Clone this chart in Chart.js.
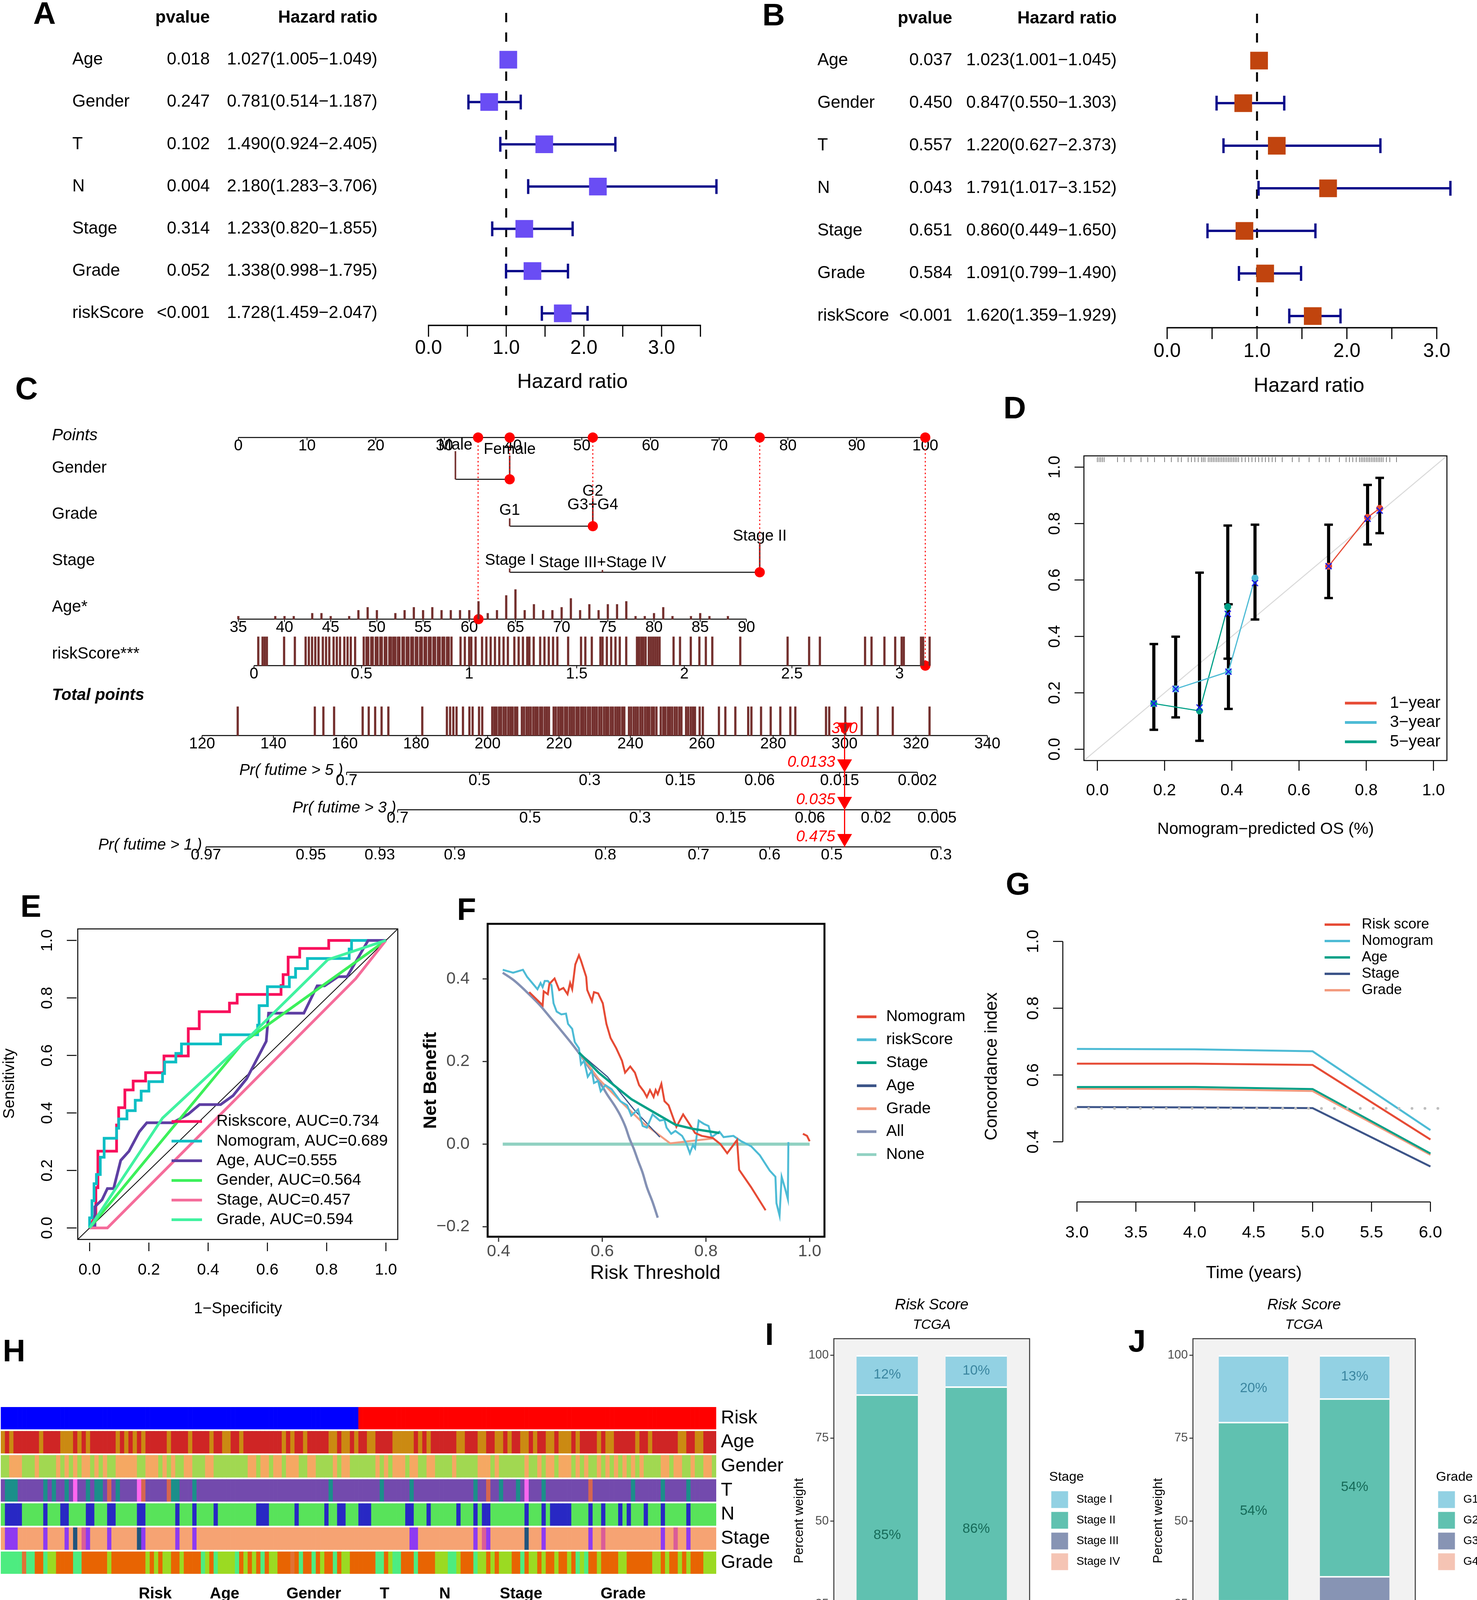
<!DOCTYPE html>
<html>
<head>
<meta charset="utf-8">
<title>Figure</title>
<script src="https://cdn.jsdelivr.net/npm/chart.js@4.4.1/dist/chart.umd.min.js"></script>
<style>
html,body{margin:0;padding:0;background:#fff;}
#page{position:relative;width:3780px;height:4455px;background:#fff;overflow:hidden;}
#page canvas{position:absolute;}
.plab{position:absolute;font-family:"Liberation Sans",Arial,sans-serif;font-weight:bold;font-size:80px;line-height:80px;transform:translate(-50%,-50%);color:#000;}
</style>
</head>
<body>
<div id="page"></div>
<script>
// ======================= DATA =======================
// --- A / B forest plots ---
const forestVars = ['Age','Gender','T','N','Stage','Grade','riskScore'];
const uniP  = ['0.018','0.247','0.102','0.004','0.314','0.052','<0.001'];
const uniHR = [1.027,0.781,1.490,2.180,1.233,1.338,1.728];
const uniLo = [1.005,0.514,0.924,1.283,0.820,0.998,1.459];
const uniHi = [1.049,1.187,2.405,3.706,1.855,1.795,2.047];
const multiP  = ['0.037','0.450','0.557','0.043','0.651','0.584','<0.001'];
const multiHR = [1.023,0.847,1.220,1.791,0.860,1.091,1.620];
const multiLo = [1.001,0.550,0.627,1.017,0.449,0.799,1.359];
const multiHi = [1.045,1.303,2.373,3.152,1.650,1.490,1.929];
const forestTicksA = [0,0.5,1,1.5,2,2.5,3,3.5];
const forestTicksB = [0,0.5,1,1.5,2,2.5,3];

// --- C nomogram ---
const nomoPtsTicks = [0,10,20,30,40,50,60,70,80,90,100];
const nomoGenderLv = ['Male','Female'];
const nomoGenderPts = [31.6,39.5];
const nomoGradeLv = ['G1','G2','G3+G4'];
const nomoGradePts = [39.5,51.6,51.6];
const nomoStageLv = ['Stage I','Stage II','Stage III+Stage IV'];
const nomoStagePts = [39.5,75.9,53.0];
const nomoAgeTicks = [35,40,45,50,55,60,65,70,75,80,85,90];
const nomoAgeVals = [35,39,40,41,43,44,45,47,48,49,50,52,53,54,55,56,57,58,59,60,61,62,63,64,65,66,67,68,69,70,71,72,73,74,75,76,77,78,79,80,81,82,84,85,86,88];
const nomoAgeCnt  = [1,1,1,1,2,2,1,1,3,4,3,2,3,4,3,4,3,3,3,3,6,2,3,8,10,3,5,3,3,4,7,3,5,3,5,5,6,1,1,2,4,1,1,2,1,1];
const nomoRiskTicks = [0,0.5,1,1.5,2,2.5,3];
const nomoRiskTickLabels = ['0','0.5','1','1.5','2','2.5','3'];
const nomoRiskRug = [0.02,0.04,0.05,0.06,0.14,0.19,0.24,0.255,0.27,0.285,0.30,0.32,0.335,0.35,0.37,0.385,0.40,0.42,0.435,0.45,0.47,
  0.51,0.523,0.531,0.545,0.552,0.566,0.574,0.587,0.594,0.608,0.615,0.629,0.637,0.648,0.657,0.669,0.676,0.69,0.697,0.71,0.718,0.731,0.739,0.752,0.759,0.772,0.78,0.793,0.80,0.813,0.821,0.834,0.842,0.855,0.863,0.876,0.884,0.897,0.905,0.918,
  0.96,0.98,1.00,1.01,1.03,1.06,1.08,1.10,1.12,1.14,1.16,1.18,1.21,1.23,1.25,1.27,1.28,1.30,1.33,1.35,1.37,1.39,1.41,1.46,1.52,1.54,1.57,1.61,1.62,1.64,1.66,1.68,1.70,1.73,
  1.78,1.79,1.80,1.81,1.82,1.835,1.845,1.855,1.865,1.875,1.885,1.95,1.98,2.03,2.07,2.10,2.13,2.26,2.48,2.58,2.63,2.84,2.87,2.93,2.98,3.01,3.02,3.10,3.11,3.14];
const nomoTotTicks = [120,140,160,180,200,220,240,260,280,300,320,340];
const nomoTotRug = [130,151.6,154,157,165,166.7,168.5,170.3,172.2,181.7,188.6,189.5,190.4,191.3,193.1,194.9,195.8,197.6,198.5,
  201.3,201.9,202.5,203.2,203.8,204.5,205.1,205.8,206.4,207.0,207.7,208.3,209.6,210.2,210.9,211.5,212.1,212.8,213.4,214.0,214.7,215.3,216.0,216.6,217.2,218.5,219.1,219.8,220.4,221.0,221.7,222.3,223.0,223.6,224.2,224.9,225.5,226.2,226.8,227.4,228.1,228.7,229.4,230.0,230.6,231.3,231.9,232.6,233.2,233.8,234.5,235.1,235.8,236.4,237.0,237.7,238.3,239.6,240.2,240.9,241.5,242.1,242.8,243.4,244.1,244.7,245.3,246.0,246.6,247.3,248.5,249.2,249.8,250.5,251.1,251.7,252.4,253.0,253.7,254.3,255.6,256.2,256.9,257.5,258.1,259.4,260.3,
  264.8,266.6,269.4,273,273.9,276.6,279.3,282,284.8,286.2,294.8,295.7,300.2,304.8,309.3,313.5,323.8];
const pr5Labels = ['0.7','0.5','0.3','0.15','0.06','0.015','0.002'];
const pr5Tot    = [160.5,197.7,228.6,254.0,276.2,298.6,320.4];
const pr3Labels = ['0.7','0.5','0.3','0.15','0.06','0.02','0.005'];
const pr3Tot    = [174.8,211.9,242.7,268.2,290.3,308.8,325.9];
const pr1Labels = ['0.97','0.95','0.93','0.9','0.8','0.7','0.6','0.5','0.3'];
const pr1Tot    = [121.1,150.5,169.8,190.8,233.0,259.1,279.0,296.4,327.0];
const nomoSelPts = [34.9,39.5,51.6,75.9,100.0];   // Age, Gender(Female), Grade(G2), Stage(II), riskScore
const nomoSelAge = 61;
const nomoSelRisk = 3.12;
const nomoSelTotal = 300;
const nomoSelProb = ['0.0133','0.035','0.475'];

// --- D calibration ---
const cal1X = [0.688,0.804,0.840], cal1Obs = [0.649,0.822,0.854], cal1Cor = [0.649,0.817,0.846], cal1Lo = [0.536,0.726,0.766], cal1Hi = [0.796,0.937,0.962];
const cal3X = [0.233,0.390,0.469], cal3Obs = [0.214,0.275,0.607], cal3Cor = [0.214,0.275,0.589], cal3Lo = [0.113,0.143,0.460], cal3Hi = [0.399,0.514,0.796];
const cal5X = [0.168,0.304,0.388], cal5Obs = [0.162,0.136,0.505], cal5Cor = [0.162,0.148,0.480], cal5Lo = [0.069,0.030,0.321], cal5Hi = [0.373,0.626,0.793];
const calRug = [0.0,0.005,0.01,0.015,0.02,0.06,0.08,0.1,0.13,0.15,0.17,0.2,0.22,0.24,0.25,0.27,0.28,0.29,0.3,0.31,0.315,0.32,0.33,0.335,0.34,0.345,0.35,0.355,0.36,0.365,0.37,0.375,0.38,0.385,0.39,0.395,0.4,0.405,0.41,0.415,0.42,0.43,0.44,0.45,0.46,0.47,0.48,0.49,0.5,0.51,0.52,0.53,0.55,0.58,0.6,0.63,0.66,0.68,0.69,0.72,0.74,0.75,0.76,0.77,0.78,0.785,0.79,0.795,0.8,0.805,0.81,0.815,0.82,0.825,0.83,0.835,0.84,0.845,0.85,0.86,0.87,0.89];
const calNames = ['1\u2212year','3\u2212year','5\u2212year'];
const calTicks = [0,0.2,0.4,0.6,0.8,1.0];

// --- E ROC ---
const rocNames = ['Riskscore, AUC=0.734','Nomogram, AUC=0.689','Age, AUC=0.555','Gender, AUC=0.564','Stage, AUC=0.457','Grade, AUC=0.594'];
const rocRisk = [[0,0],[0.021,0.05],[0.021,0.14],[0.028,0.14],[0.028,0.267],[0.091,0.267],[0.091,0.358],[0.098,0.358],[0.098,0.418],[0.119,0.418],[0.119,0.48],[0.147,0.48],[0.147,0.511],[0.189,0.511],[0.189,0.54],[0.251,0.54],[0.251,0.598],[0.333,0.598],[0.333,0.693],[0.370,0.693],[0.370,0.752],[0.472,0.752],[0.472,0.782],[0.498,0.782],[0.498,0.812],[0.646,0.812],[0.646,0.843],[0.653,0.843],[0.653,0.881],[0.670,0.881],[0.670,0.942],[0.709,0.942],[0.709,0.972],[0.807,0.972],[0.807,1.0],[1,1]];
const rocNomo = [[0,0],[0,0.035],[0.008,0.035],[0.008,0.095],[0.015,0.095],[0.015,0.154],[0.023,0.154],[0.023,0.186],[0.036,0.186],[0.036,0.246],[0.049,0.246],[0.049,0.312],[0.091,0.312],[0.091,0.347],[0.098,0.347],[0.098,0.379],[0.126,0.379],[0.126,0.408],[0.154,0.408],[0.154,0.444],[0.174,0.444],[0.174,0.476],[0.2,0.476],[0.2,0.509],[0.246,0.509],[0.246,0.537],[0.253,0.537],[0.253,0.577],[0.291,0.577],[0.291,0.607],[0.31,0.607],[0.31,0.64],[0.442,0.64],[0.442,0.672],[0.567,0.672],[0.567,0.705],[0.572,0.705],[0.572,0.773],[0.6,0.773],[0.6,0.839],[0.674,0.839],[0.674,0.872],[0.695,0.872],[0.695,0.902],[0.735,0.902],[0.735,0.937],[0.876,0.937],[0.876,0.97],[0.884,0.97],[0.884,1.0],[1,1]];
const rocAge = [[0,0],[0.018,0.007],[0.018,0.074],[0.042,0.098],[0.06,0.137],[0.081,0.137],[0.105,0.235],[0.133,0.267],[0.168,0.335],[0.193,0.366],[0.281,0.366],[0.333,0.396],[0.371,0.429],[0.442,0.429],[0.484,0.46],[0.53,0.519],[0.596,0.649],[0.604,0.747],[0.723,0.747],[0.768,0.842],[0.793,0.842],[0.839,0.874],[0.869,0.874],[0.94,1.0],[1,1]];
const rocGender = [[0,0],[0.519,0.646],[1,1]];
const rocStage = [[0,0],[0.06,0],[0.898,0.867],[1,1]];
const rocGrade = [[0,0],[0.246,0.382],[0.52,0.645],[0.804,0.933],[1,1]];
const rocTicks = [0,0.2,0.4,0.6,0.8,1.0];

// --- F decision curves ---
const dcaNames = ['Nomogram','riskScore','Stage','Age','Grade','All','None'];
const dcaNomo = [[0.459,0.368],[0.485,0.336],[0.487,0.37],[0.495,0.363],[0.498,0.388],[0.508,0.401],[0.517,0.373],[0.525,0.378],[0.533,0.363],[0.538,0.39],[0.542,0.375],[0.544,0.395],[0.548,0.435],[0.555,0.457],[0.559,0.444],[0.569,0.405],[0.571,0.373],[0.580,0.346],[0.584,0.368],[0.592,0.365],[0.601,0.341],[0.608,0.291],[0.616,0.257],[0.627,0.232],[0.638,0.202],[0.644,0.173],[0.654,0.188],[0.663,0.173],[0.671,0.143],[0.68,0.128],[0.686,0.114],[0.692,0.131],[0.699,0.114],[0.703,0.131],[0.707,0.121],[0.714,0.146],[0.72,0.104],[0.728,0.094],[0.743,0.042],[0.756,0.072],[0.768,0.049],[0.779,0.027],[0.792,0.02],[0.813,0.015],[0.828,0.0],[0.841,-0.022],[0.86,0.01],[0.864,-0.062],[0.887,-0.104],[0.915,-0.16],[0.95,null],[0.987,0.025],[0.995,0.02],[1.0,0.007]];
const dcaRisk = [[0.408,0.422],[0.428,0.415],[0.447,0.422],[0.455,0.405],[0.475,0.375],[0.481,0.39],[0.485,0.38],[0.489,0.395],[0.495,0.395],[0.502,0.385],[0.506,0.341],[0.512,0.321],[0.521,0.314],[0.53,0.316],[0.534,0.291],[0.542,0.279],[0.547,0.247],[0.555,0.232],[0.559,0.193],[0.565,0.202],[0.572,0.163],[0.58,0.178],[0.584,0.148],[0.592,0.153],[0.597,0.128],[0.606,0.143],[0.618,0.133],[0.635,0.104],[0.648,0.094],[0.656,0.069],[0.669,0.084],[0.678,0.044],[0.686,0.04],[0.697,0.072],[0.711,0.057],[0.72,0.059],[0.724,0.04],[0.733,0.025],[0.741,0.032],[0.754,0.02],[0.762,0.002],[0.769,-0.022],[0.775,-0.002],[0.779,-0.01],[0.786,0.057],[0.796,0.049],[0.805,0.044],[0.811,0.017],[0.826,0.03],[0.834,0.017],[0.853,0.02],[0.868,0.007],[0.887,-0.005],[0.904,-0.027],[0.923,-0.064],[0.934,-0.079],[0.936,-0.143],[0.942,-0.173],[0.946,-0.079],[0.953,-0.109],[0.958,-0.133],[0.959,0.005]];
const dcaStage = [[0.555,0.222],[0.593,0.173],[0.627,0.138],[0.656,0.109],[0.69,0.084],[0.741,0.047],[0.775,0.037],[0.826,0.027]];
const dcaAge = [[0.555,0.222],[0.61,0.163],[0.661,0.084],[0.711,0.017]];
const dcaGrade = [[0.555,0.222],[0.593,0.158],[0.635,0.104],[0.678,0.052],[0.731,0.002],[0.815,0.014]];
const dcaAll = [[0.408,0.415],[0.43,0.396],[0.457,0.365],[0.48,0.336],[0.5,0.306],[0.52,0.276],[0.542,0.242],[0.56,0.212],[0.576,0.183],[0.595,0.15],[0.61,0.119],[0.625,0.091],[0.635,0.069],[0.645,0.041],[0.652,0.015],[0.661,-0.012],[0.669,-0.04],[0.678,-0.07],[0.686,-0.104],[0.697,-0.14],[0.707,-0.178]];
const dcaNone = [[0.408,0],[1.0,0]];
const dcaXTicks = [0.4,0.6,0.8,1.0];
const dcaYTicks = [-0.2,0,0.2,0.4];

// --- G concordance index ---
const cTime  = [3,4,5,6];
const cRisk  = [0.634,0.634,0.630,0.407];
const cNomo  = [0.678,0.677,0.671,0.435];
const cAge   = [0.564,0.564,0.558,0.365];
const cStage = [0.504,0.503,0.501,0.326];
const cGrade = [0.559,0.558,0.552,0.361];
const cNames = ['Risk score','Nomogram','Age','Stage','Grade'];
const cXTicks = [3,3.5,4,4.5,5,5.5,6];
const cYTicks = [0.4,0.6,0.8,1.0];

// --- H annotation heatmap (one code per patient column, low-risk half then high-risk half) ---
const hmRiskLow    = "0000000000 0000000000 0000000000 0000000000 0000000000 0000000000 0000000000 0000000000 0000";
const hmRiskHigh   = "1111111111 1111111111 1111111111 1111111111 1111111111 1111111111 1111111111 1111111111 1111";
const hmAgeLow     = "0 1 0 111111 0 1111 000 1 0 1 0 111111 0 1 0 1 0 1 0 11111 0 1111 0 1111 0 11 00 11 0 111111111 0 1 0 11 0 11111 00 1 00 1 0";
const hmAgeHigh    = "11 00 1111 00000 1 0 1 0 111111 00 111 00 11 00 1 0 11 00 1 0 11 00 1 000 1 0 1111 0 1 00 11111 0 11 0 111111 00 11 00 111";
const hmGenderLow  = "11 000 111 0 1111 0 1 0 1 0 1 00 1 0 1 0 11 00000 11 000 1 0 1 0 11 00 111 00 11111111 00 1 00 1 00 1 000 11 00 1111 0 1 00 11";
const hmGenderHigh = "1111 0 1 0 1 000 1 00 11 00 1111 0 11111 000 1 0 111111 0 11 0 1 00 1 000 1 0 1 0 11 0 1 0 1 0 1 0 1 0 1 0 1111 00 1 00 11 0 11 00 1";
const hmTLow       = "2 111 222222 1 2 1 22 1 2 3 22 1 2 11 2 0 2 1 2222 3 0 22222 0 11 222 1 2222222222 2222222222 2222222222 2 1 222222";
const hmTHigh      = "22222 1 222222 1 2222222222 2222 1 22 0 22 1 222 1 2 3 222 1 2222222222 0 222222222 1 222222 1 22222 1 222222";
const hmNLow       = "1 0000 11111 0 111 00 1111 00 111 00 11111 00 1111111 0 111 0 1111 0 111111111 000 111111 0 111111 0 11 00 111";
const hmNHigh      = "000 11111111 00 111 0 111111 0 111 0 1 00 11111111 0 111 0 1 00000 1111 0 11 0 111 0 1 0 111 0 111 0 11111 0 111111";
const hmStageLow   = "1 000 111111 0 1111 0 1 2 1 3 0 1111 0 111111 2 0 1111111 0 111 0 1111111111 1111111111 1111111111 11111111";
const hmStageHigh  = "111111111111 00 1111111111111 0 1 3 0 11111111 2 111 0 1111111111 0 11 3 1111111111111 0 11 3 11 0 111111";
const hmGradeLow   = "00000 3 00 11 0 22 1111 00 111111 2 11111111 2 1 2 1 22 11 2 1111 0 2 1 0 2222 0 1 2 1 2 1 0 1 22 111 3 1 0 11 0 1 2 11 0 1 22 11";
const hmGradeHigh  = "1111 00 1 2 00 111 0 1111 222 00 2 111 0 22 1 2 1 222 11 0 1 22 1 2 11 2 11 2 1 0 2 0 11 2 1111 22 111111 22 1 2 11 2 1 2 111 222";
const hmRowNames = ['Risk','Age','Gender','T','N','Stage','Grade'];
const riskLv = ['low','high'], ageLv = ['<=61','>61'], genderLv = ['Female','Male'], tLv = ['T1','T2','T3','T4'], nLv = ['N0','N1'], stageLv = ['Stage I','Stage II','Stage III','Stage IV'], gradeLv = ['G1','G2','G3','G4'];

// --- I / J proportion bars ---
const propGroups = ['low','high'];
const propN = [89,88];
const stageCats = ['Stage I','Stage II','Stage III','Stage IV'];
const stageLowPct  = [11.8,84.9,2.3,1.0];
const stageHighPct = [9.4,86.0,1.3,3.3];
const stageLowLbl  = ['12%','85%','2%','1%'];
const stageHighLbl = ['10%','86%','1%','4%'];
const gradeCats = ['G1','G2','G3','G4'];
const gradeLowPct  = [20.1,53.7,23.9,2.3];
const gradeHighPct = [13.0,53.6,33.4,0.0];
const gradeLowLbl  = ['20%','54%','24%','2%'];
const gradeHighLbl = ['13%','54%','33%','0%'];
const propYTicks = [0,25,50,75,100];

// ======================= STYLE =======================
const FONT = '"Liberation Sans", Arial, Helvetica, sans-serif';
const NAVY = '#0A0A8A';
const BROWN = '#74302E';
const RED = '#FF0000';
const NPG = ['#E64B35','#4DBBD5','#00A087','#3C5488','#F39B7F','#8491B4','#91D1C2'];
const calColors = [NPG[0],NPG[1],NPG[2]];
const rocColors = ['#F8105C','#0DBEC4','#5E3FA3','#3CF05A','#F56C9A','#40F2A0'];
const dcaColors = [NPG[0],NPG[1],NPG[2],NPG[3],NPG[4],NPG[5],NPG[6]];
const cColors = [NPG[0],NPG[1],NPG[2],NPG[3],NPG[4]];
const riskCol = ['#0000FF','#FF0000'];
const ageCol = ['#CB8A12','#CF2525'];
const genderCol = ['#F5A862','#A1D851'];
const tCol = ['#D6664F','#1B8F8A','#734AAD','#FF66F0'];
const nCol = ['#2828C4','#58E35A'];
const stageColH = ['#8E3AF2','#F6A373','#22547C','#DA5C98'];
const gradeColH = ['#4DEC80','#E86402','#9BDA22','#E07234'];
const propFill = ['#92D1E3','#60C1B0','#8794B4','#F5C4B4'];
const propTxt  = ['#3B86A0','#166B59','#28314F','#A06A58'];

Chart.defaults.font.family = FONT;
Chart.defaults.elements.point.radius = 0;
Chart.defaults.elements.point.hoverRadius = 0;
Chart.defaults.elements.line.tension = 0;

// ======================= HELPERS =======================
const page = document.getElementById('page');
let plugCount = 0;
function mkCanvas(L,T,W,H){
  const c=document.createElement('canvas'); c.width=W; c.height=H;
  c.style.left=L+'px'; c.style.top=T+'px'; c.style.width=W+'px'; c.style.height=H+'px';
  page.appendChild(c); return c;
}
function txt(ctx,s,x,y,o){
  o=o||{}; ctx.save();
  ctx.font=(o.style||'normal')+' '+(o.weight||'normal')+' '+(o.size||42)+'px '+FONT;
  ctx.fillStyle=o.color||'#000'; ctx.textAlign=o.align||'center'; ctx.textBaseline=o.base||'middle';
  if(o.rot){ctx.translate(x,y);ctx.rotate(o.rot);ctx.fillText(s,0,0);} else ctx.fillText(s,x,y);
  ctx.restore();
}
function seg(ctx,x1,y1,x2,y2,color,w,dash,cap){
  ctx.save(); ctx.beginPath(); ctx.strokeStyle=color||'#000'; ctx.lineWidth=w||2;
  ctx.setLineDash(dash||[]); ctx.lineCap=cap||'butt'; ctx.moveTo(x1,y1); ctx.lineTo(x2,y2); ctx.stroke(); ctx.restore();
}
function rect(ctx,x,y,w,h,fill,stroke,lw){
  ctx.save(); if(fill){ctx.fillStyle=fill;ctx.fillRect(x,y,w,h);} if(stroke){ctx.strokeStyle=stroke;ctx.lineWidth=lw||2;ctx.strokeRect(x,y,w,h);} ctx.restore();
}
function letter(s,x,y){const d=document.createElement('div');d.className='plab';d.textContent=s;d.style.left=x+'px';d.style.top=y+'px';page.appendChild(d);}
function pairs(a){return a.map(p=>({x:p[0],y:p[1]}));}
function makeChart(L,T0,W,H,area,config,drawAfter,drawBefore){
  const cv=mkCanvas(L,T0,W,H);
  const wrap=fn=>ch=>{
    if(!fn) return;
    const c=ch.ctx; c.save(); c.translate(-L,-T0);
    fn(ch,c,(sid,v)=>ch.scales[sid].getPixelForValue(v)+L,(sid,v)=>ch.scales[sid].getPixelForValue(v)+T0);
    c.restore();
  };
  const o=config.options||(config.options={});
  o.responsive=false; o.maintainAspectRatio=false; o.animation=false; o.devicePixelRatio=1; o.events=[];
  o.layout={autoPadding:false,padding:{left:area.l-L,right:L+W-area.r,top:area.t-T0,bottom:T0+H-area.b}};
  o.plugins=Object.assign({legend:{display:false},tooltip:{enabled:false},title:{display:false}},o.plugins||{});
  config.plugins=[{id:'pg'+(++plugCount),beforeDatasetsDraw:wrap(drawBefore),afterDatasetsDraw:wrap(drawAfter)}];
  return new Chart(cv.getContext('2d'),config);
}
const LIN = (min,max,extra)=>Object.assign({type:'linear',display:false,min:min,max:max,offset:false},extra||{});

// ======================= A & B : forest plots =======================
function forestPanel(o){
  const ds=[];
  o.hr.forEach((v,i)=>ds.push({type:'line',data:[{x:o.lo[i],y:i},{x:o.hi[i],y:i}],borderColor:NAVY,borderWidth:6,
    pointStyle:'line',pointRotation:90,pointRadius:19,pointBorderColor:NAVY,pointBorderWidth:6,order:2}));
  ds.push({type:'scatter',data:o.hr.map((v,i)=>({x:v,y:i})),pointStyle:'rect',pointRadius:32,
    pointBackgroundColor:o.color,backgroundColor:o.color,pointBorderWidth:0,borderWidth:0,order:1});
  makeChart(o.L,o.T,o.W,o.H,o.area,{type:'scatter',data:{datasets:ds},
    options:{scales:{x:LIN(o.xmin,o.xmax),y:LIN(o.ymin,o.ymax,{reverse:true})}}},
    (ch,ctx,X,Y)=>{
      txt(ctx,'pvalue',o.pX,o.headY,{size:44,weight:'bold',align:'right'});
      txt(ctx,'Hazard ratio',o.hrX,o.headY,{size:44,weight:'bold',align:'right'});
      forestVars.forEach((n,i)=>{
        const y=Y('y',i);
        txt(ctx,n,o.labX,y,{size:44,align:'left'});
        txt(ctx,o.p[i],o.pX,y,{size:44,align:'right'});
        txt(ctx,o.hr[i].toFixed(3)+'('+o.lo[i].toFixed(3)+'\u2212'+o.hi[i].toFixed(3)+')',o.hrX,y,{size:44,align:'right'});
      });
      const t=o.ticks;
      seg(ctx,X('x',t[0])-1.5,o.axisY,X('x',t[t.length-1])+1.5,o.axisY,'#000',3.5);
      t.forEach(v=>{const x=X('x',v); seg(ctx,x,o.axisY,x,o.axisY+29,'#000',3);
        if(Number.isInteger(v)) txt(ctx,v.toFixed(1),x,o.tickLabY,{size:50});});
      txt(ctx,'Hazard ratio',o.xlabX,o.xlabY,{size:52});
    },
    (ch,ctx,X,Y)=>{const x=X('x',1); seg(ctx,x,o.dashTop,x,o.axisY,'#000',5,[24,26]);});
}
forestPanel({L:0,T:0,W:1900,H:1040,area:{l:1037,t:0,r:1892,b:1040},xmin:-0.3,xmax:4.0,ymin:-1.414,ymax:8.198,
  hr:uniHR,lo:uniLo,hi:uniHi,p:uniP,color:'#6A4DF4',labX:185,pX:537,hrX:966,headY:46,axisY:833,tickLabY:892,
  xlabX:1465,xlabY:979,dashTop:33,ticks:forestTicksA});
forestPanel({L:1950,T:0,W:1830,H:1040,area:{l:2918,t:0,r:3780,b:1040},xmin:-0.3,xmax:3.448,ymin:-1.422,ymax:8.119,
  hr:multiHR,lo:multiLo,hi:multiHi,p:multiP,color:'#C1440E',labX:2092,pX:2437,hrX:2858,headY:48,axisY:839,tickLabY:900,
  xlabX:3350,xlabY:989,dashTop:35,ticks:forestTicksB});

// ======================= C : nomogram =======================
(function(){
  const R={points:1120,gender:1227,grade:1347,stage:1465,age:1585,risk:1704,total:1883,pr5:1977,pr3:2073,pr1:2168};
  const ds=[];
  ds.push({type:'bar',xAxisID:'xAge',yAxisID:'yAge',data:nomoAgeVals.map((v,i)=>({x:v,y:nomoAgeCnt[i]})),backgroundColor:BROWN,barThickness:5,grouped:false,borderWidth:0});
  ds.push({type:'bar',xAxisID:'xRisk',yAxisID:'yRisk',data:nomoRiskRug.map(v=>({x:v,y:1})),backgroundColor:BROWN,barThickness:5,grouped:false,borderWidth:0});
  ds.push({type:'bar',xAxisID:'xTot',yAxisID:'yTot',data:nomoTotRug.map(v=>({x:v,y:1})),backgroundColor:BROWN,barThickness:5,grouped:false,borderWidth:0});
  const selRows=[R.age,R.gender,R.grade,R.stage,R.risk];
  nomoSelPts.forEach((p,i)=>ds.push({type:'line',xAxisID:'xPts',yAxisID:'yPx',data:[{x:p,y:R.points},{x:p,y:selRows[i]}],borderColor:RED,borderWidth:2.5,borderDash:[4,6]}));
  const dot={type:'scatter',pointRadius:13,pointBackgroundColor:RED,backgroundColor:RED,pointBorderWidth:0,borderWidth:0};
  ds.push(Object.assign({xAxisID:'xPts',yAxisID:'yPx',data:nomoSelPts.map(p=>({x:p,y:R.points}))},dot));
  ds.push(Object.assign({xAxisID:'xPts',yAxisID:'yPx',data:[{x:nomoSelPts[1],y:R.gender},{x:nomoSelPts[2],y:R.grade},{x:nomoSelPts[3],y:R.stage}]},dot));
  ds.push(Object.assign({xAxisID:'xAge',yAxisID:'yPx',data:[{x:nomoSelAge,y:R.age}]},dot));
  ds.push(Object.assign({xAxisID:'xRisk',yAxisID:'yPx',data:[{x:nomoSelRisk,y:R.risk}]},dot));
  ds.push({type:'line',xAxisID:'xTot',yAxisID:'yPx',data:[{x:nomoSelTotal,y:R.total},{x:nomoSelTotal,y:R.pr1}],borderColor:RED,borderWidth:3});
  ds.push({type:'scatter',xAxisID:'xTot',yAxisID:'yPx',data:[R.total,R.pr5,R.pr3,R.pr1].map(y=>({x:nomoSelTotal,y:y-22})),
    pointStyle:'triangle',pointRotation:180,pointRadius:22,pointBackgroundColor:RED,backgroundColor:RED,pointBorderWidth:0});
  makeChart(0,1050,2600,1150,{l:0,t:1050,r:2600,b:2200},{type:'bar',data:{datasets:ds},options:{scales:{
      xPts:LIN(-34.698,113.197,{axis:'x'}), xAge:LIN(9.20,119.18,{axis:'x'}), xRisk:LIN(-1.1803,3.5411,{axis:'x'}), xTot:LIN(63.41,348.0,{axis:'x'}),
      yPx:LIN(1050,2200,{axis:'y',reverse:true}), yAge:LIN(-80.92,70.40,{axis:'y'}), yRisk:LIN(-6.703,8.838,{axis:'y'}), yTot:LIN(-4.284,11.257,{axis:'y'})}}},
    (ch,ctx,X,Y)=>{
      txt(ctx,'Points',133,1115,{size:42,style:'italic',align:'left'});
      txt(ctx,'Gender',133,1198,{size:42,align:'left'});
      txt(ctx,'Grade',133,1316,{size:42,align:'left'});
      txt(ctx,'Stage',133,1435,{size:42,align:'left'});
      txt(ctx,'Age*',133,1554,{size:42,align:'left'});
      txt(ctx,'riskScore***',133,1674,{size:42,align:'left'});
      txt(ctx,'Total points',133,1780,{size:42,style:'italic',weight:'bold',align:'left'});
      const xs=X('xTot',nomoSelTotal);
      txt(ctx,String(nomoSelTotal),xs,1866,{size:40,style:'italic',color:RED});
      [R.pr5,R.pr3,R.pr1].forEach((r,i)=>txt(ctx,nomoSelProb[i],xs-24,r-25,{size:40,style:'italic',color:RED,align:'right'}));
    },
    (ch,ctx,X,Y)=>{
      const LW=2.5;
      const axisLine=(x1,x2,y)=>seg(ctx,x1,y,x2,y,'#000',LW);
      const tickLab=(x,y,s)=>{seg(ctx,x,y,x,y+7,'#000',2); txt(ctx,s,x,y+33,{size:40,base:'alphabetic'});};
      axisLine(X('xPts',0),X('xPts',100),R.points);
      nomoPtsTicks.forEach(v=>tickLab(X('xPts',v),R.points,String(v)));
      const cat=(lv,pts,row,tl,lo)=>{
        const xs=pts.map(p=>X('xPts',p));
        axisLine(Math.min(...xs),Math.max(...xs),row);
        lv.forEach((n,i)=>{seg(ctx,xs[i],row,xs[i],row-tl[i],BROWN,4); txt(ctx,n,xs[i],row+lo[i],{size:40});});
      };
      cat(nomoGenderLv,nomoGenderPts,R.gender,[72,61],[-87,-76]);
      cat(nomoGradeLv,nomoGradePts,R.grade,[20,72,40],[-40,-89,-54]);
      cat(nomoStageLv,nomoStagePts,R.stage,[10,74,6],[-30,-92,-24]);
      axisLine(X('xAge',nomoAgeTicks[0]),X('xAge',nomoAgeTicks[nomoAgeTicks.length-1]),R.age);
      nomoAgeTicks.forEach(v=>tickLab(X('xAge',v),R.age,String(v)));
      axisLine(X('xRisk',0),X('xRisk',Math.max(...nomoRiskRug)),R.risk);
      nomoRiskTicks.forEach((v,i)=>tickLab(X('xRisk',v),R.risk,nomoRiskTickLabels[i]));
      axisLine(X('xTot',nomoTotTicks[0]),X('xTot',nomoTotTicks[nomoTotTicks.length-1]),R.total);
      nomoTotTicks.forEach(v=>tickLab(X('xTot',v),R.total,String(v)));
      const prAxis=(tot,lab,row,name,nameX)=>{
        axisLine(X('xTot',tot[0]),X('xTot',tot[tot.length-1]),row);
        tot.forEach((v,i)=>tickLab(X('xTot',v),row,lab[i]));
        txt(ctx,name,nameX,row-4,{size:40,style:'italic',align:'right'});
      };
      prAxis(pr5Tot,pr5Labels,R.pr5,'Pr( futime > 5 )',878);
      prAxis(pr3Tot,pr3Labels,R.pr3,'Pr( futime > 3 )',1014);
      prAxis(pr1Tot,pr1Labels,R.pr1,'Pr( futime > 1 )',517);
    });
})();

// ======================= D : calibration =======================
(function(){
  const ds=[];
  const series=[[cal1X,cal1Obs,cal1Cor,cal1Lo,cal1Hi],[cal3X,cal3Obs,cal3Cor,cal3Lo,cal3Hi],[cal5X,cal5Obs,cal5Cor,cal5Lo,cal5Hi]];
  series.forEach((s,k)=>{
    s[0].forEach((x,i)=>ds.push({type:'line',data:[{x:x,y:s[3][i]},{x:x,y:s[4][i]}],borderColor:'#000',borderWidth:8,
      pointStyle:'line',pointRadius:11,pointBorderColor:'#000',pointBorderWidth:6,order:5}));
    ds.push({type:'line',data:s[0].map((x,i)=>({x:x,y:s[1][i]})),borderColor:calColors[k],borderWidth:3,order:4});
    ds.push({type:'scatter',data:s[0].map((x,i)=>({x:x,y:s[1][i]})),pointRadius:9,pointBackgroundColor:calColors[k],backgroundColor:calColors[k],pointBorderWidth:0,order:3});
    ds.push({type:'scatter',data:s[0].map((x,i)=>({x:x,y:s[2][i]})),pointStyle:'crossRot',pointRadius:11,pointBorderColor:'#1A1AE6',borderColor:'#1A1AE6',pointBorderWidth:3,order:2});
  });
  const A={l:2774,t:1167,r:3703,b:1947};
  makeChart(2600,1050,1180,1150,A,{type:'scatter',data:{datasets:ds},options:{scales:{x:LIN(-0.04,1.04),y:LIN(-0.04,1.04)}}},
    (ch,ctx,X,Y)=>{
      rect(ctx,A.l,A.t,A.r-A.l,A.b-A.t,null,'#000',2.5);
      calTicks.forEach(v=>{const x=X('x',v); seg(ctx,x,A.b,x,A.b+26,'#000',2.5); txt(ctx,v.toFixed(1),x,2024,{size:42});});
      calTicks.forEach(v=>{const y=Y('y',v); seg(ctx,A.l,y,A.l-24,y,'#000',2.5); txt(ctx,v.toFixed(1),2700,y,{size:42,rot:-Math.PI/2});});
      txt(ctx,'Nomogram\u2212predicted OS (%)',3239,2123,{size:42});
      calNames.forEach((n,i)=>{const y=1800+49.5*i; seg(ctx,3442,y,3523,y,calColors[i],7); txt(ctx,n,3557,y,{size:42,align:'left'});});
    },
    (ch,ctx,X,Y)=>{
      seg(ctx,X('x',-0.04),Y('y',-0.04),X('x',1.04),Y('y',1.04),'#D9D9D9',2.5);
      calRug.forEach(v=>{const x=X('x',v); seg(ctx,x,A.t+3,x,A.t+16,'#555',1.5);});
    });
})();

// ======================= E : ROC =======================
(function(){
  const rocs=[rocRisk,rocNomo,rocAge,rocGender,rocStage,rocGrade];
  const ds=rocs.map((r,i)=>({type:'line',data:pairs(r),borderColor:rocColors[i],borderWidth:7,order:10-i,borderJoinStyle:'miter'}));
  const A={l:199,t:2378,r:1018,b:3173};
  makeChart(0,2250,1180,1150,A,{type:'scatter',data:{datasets:ds},options:{scales:{x:LIN(-0.04,1.04),y:LIN(-0.04,1.04)}}},
    (ch,ctx,X,Y)=>{
      rect(ctx,A.l,A.t,A.r-A.l,A.b-A.t,null,'#000',2.5);
      rocTicks.forEach(v=>{const x=X('x',v); seg(ctx,x,A.b+8,x,A.b+30,'#000',2.5); txt(ctx,v.toFixed(1),x,3252,{size:41});});
      rocTicks.forEach(v=>{const y=Y('y',v); seg(ctx,A.l-3,y,A.l-28,y,'#000',2.5); txt(ctx,v.toFixed(1),122,y,{size:41,rot:-Math.PI/2});});
      txt(ctx,'1\u2212Specificity',609,3351,{size:40});
      txt(ctx,'Sensitivity',25,2774,{size:40,rot:-Math.PI/2});
      rocNames.forEach((n,i)=>{const y=2871+50.3*i; seg(ctx,439,y,517,y,rocColors[i],7); txt(ctx,n,554,y,{size:41,align:'left'});});
    },
    (ch,ctx,X,Y)=>{seg(ctx,X('x',-0.04),Y('y',-0.04),X('x',1.04),Y('y',1.04),'#000',2);});
})();

// ======================= F : decision curves =======================
(function(){
  const curves=[dcaNomo,dcaRisk,dcaStage,dcaAge,dcaGrade,dcaAll,dcaNone];
  const widths=[5,5,6,3,5,6,8];
  const ds=curves.map((c,i)=>({type:'line',data:pairs(c),borderColor:dcaColors[i],borderWidth:widths[i],spanGaps:false,
    cubicInterpolationMode:(i===5?'monotone':'default'),order:[2,3,1,4,5,6,7][i]}));
  const A={l:1248,t:2365,r:2110,b:3166};
  makeChart(1060,2250,1500,1100,A,{type:'scatter',data:{datasets:ds},options:{scales:{x:LIN(0.3789,1.0286),y:LIN(-0.2241,0.5333)}}},
    (ch,ctx,X,Y)=>{
      rect(ctx,A.l,A.t,A.r-A.l,A.b-A.t,null,'#000',5);
      dcaXTicks.forEach(v=>{const x=X('x',v); seg(ctx,x,A.b,x,A.b+13,'#333',3); txt(ctx,v.toFixed(1),x,3204,{size:43,color:'#4D4D4D'});});
      dcaYTicks.forEach(v=>{const y=Y('y',v); seg(ctx,A.l-13,y,A.l,y,'#333',3); txt(ctx,(v<0?'\u2212':'')+Math.abs(v).toFixed(1),1202,y,{size:43,color:'#4D4D4D',align:'right'});});
      txt(ctx,'Risk Threshold',1677,3260,{size:50});
      txt(ctx,'Net Benefit',1103,2766,{size:47,weight:'bold',rot:-Math.PI/2});
      dcaNames.forEach((n,i)=>{const y=2603+58.8*i; seg(ctx,2193,y,2243,y,dcaColors[i],7); txt(ctx,n,2268,y,{size:41,align:'left'});});
    });
})();

// ======================= G : C-index over time =======================
(function(){
  const series=[cRisk,cNomo,cAge,cStage,cGrade];
  const ds=series.map((s,i)=>({type:'line',data:cTime.map((t,j)=>({x:t,y:s[j]})),borderColor:cColors[i],borderWidth:5,order:[3,1,2,5,4][i]}));
  const A={l:2720,t:2360,r:3697,b:3077};
  makeChart(2500,2200,1280,1150,A,{type:'scatter',data:{datasets:ds},options:{scales:{x:LIN(2.88,6.12),y:LIN(0.2199,1.0585)}}},
    (ch,ctx,X,Y)=>{
      const y5=Y('y',0.5); seg(ctx,A.l+33,y5,A.r,y5,'#BEBEBE',7,[0.1,33],'round');
      seg(ctx,A.l,Y('y',cYTicks[0]),A.l,Y('y',cYTicks[cYTicks.length-1]),'#000',2.5);
      cYTicks.forEach(v=>{const y=Y('y',v); seg(ctx,A.l,y,A.l-25,y,'#000',2.5); txt(ctx,v.toFixed(1),2645,y,{size:43,rot:-Math.PI/2});});
      seg(ctx,X('x',3),A.b,X('x',6),A.b,'#000',2.5);
      cXTicks.forEach(v=>{const x=X('x',v); seg(ctx,x,A.b,x,A.b+25,'#000',2.5); txt(ctx,v.toFixed(1),x,3156,{size:43});});
      txt(ctx,'Time (years)',3209,3260,{size:44});
      txt(ctx,'Concordance index',2539,2730,{size:44,rot:-Math.PI/2});
      cNames.forEach((n,i)=>{const y=2367+42*i; seg(ctx,3390,y,3455,y,cColors[i],6); txt(ctx,n,3485,y,{size:37,align:'left'});});
    });
})();

// ======================= H : annotation heatmap =======================
(function(){
  const dec=s=>s.replace(/ /g,'').split('').map(Number);
  const rows=[
    {codes:dec(hmRiskLow+hmRiskHigh),col:riskCol},
    {codes:dec(hmAgeLow+hmAgeHigh),col:ageCol},
    {codes:dec(hmGenderLow+hmGenderHigh),col:genderCol},
    {codes:dec(hmTLow+hmTHigh),col:tCol},
    {codes:dec(hmNLow+hmNHigh),col:nCol},
    {codes:dec(hmStageLow+hmStageHigh),col:stageColH},
    {codes:dec(hmGradeLow+hmGradeHigh),col:gradeColH}];
  const ds=rows.map((r,ri)=>({type:'bar',data:r.codes.map(()=>[ri,ri+0.92]),backgroundColor:r.codes.map(c=>r.col[c]),
    borderWidth:0,grouped:false,barPercentage:1,categoryPercentage:1}));
  const legend=[
    ['Risk',['high','low'],[riskCol[1],riskCol[0]],355],
    ['Age',ageLv,ageCol,537],
    ['Gender',genderLv,genderCol,733],
    ['T',tLv,tCol,972],
    ['N',nLv,nCol,1124],
    ['Stage',stageLv,stageColH,1279],
    ['Grade',gradeLv,gradeColH,1537]];
  makeChart(0,3420,2040,920,{l:2,t:3602,r:1833,b:4029},{type:'bar',data:{labels:rows[0].codes.map((_,i)=>String(i)),datasets:ds},
    options:{scales:{x:{type:'category',display:false,offset:true},y:LIN(0,6.92,{reverse:true})}}},
    (ch,ctx,X,Y)=>{
      hmRowNames.forEach((n,i)=>txt(ctx,n,1845,Y('y',i+0.46),{size:48,align:'left'}));
      legend.forEach(g=>{
        txt(ctx,g[0],g[3],4081,{size:40,weight:'bold',align:'left'});
        g[1].forEach((n,i)=>{const yc=4140+46*i; rect(ctx,g[3],yc-21.5,43,43,g[2][i]); txt(ctx,n,g[3]+57,yc,{size:40,align:'left'});});
      });
    });
})();

// ======================= I / J : stacked proportions =======================
function propPanel(o){
  const ds=[];
  for(let k=o.cats.length-1;k>=0;k--){
    ds.push({type:'bar',label:o.cats[k],data:[{x:1,y:o.low[k]},{x:2,y:o.high[k]}],backgroundColor:propFill[k],borderColor:'#FFFFFF',
      borderWidth:{top:4,left:0,right:0,bottom:0},borderSkipped:false,barThickness:o.barW});
  }
  const A=o.area;
  makeChart(o.L,3300,o.W,1155,A,{type:'bar',data:{datasets:ds},options:{scales:{x:LIN(0.4,2.6,{stacked:true}),y:LIN(-5,105,{stacked:true})}}},
    (ch,ctx,X,Y)=>{
      rect(ctx,A.l,A.t,A.r-A.l,A.b-A.t,null,'#333333',2.5);
      ch.data.datasets.forEach((d,di)=>{
        const k=o.cats.length-1-di;
        ch.getDatasetMeta(di).data.forEach((el,j)=>{
          const yc=(el.y+el.base)/2+3300;
          txt(ctx,(j===0?o.lowLbl:o.highLbl)[k],el.x+o.L,yc,{size:35,color:propTxt[k]});
        });
      });
      propYTicks.forEach(v=>{const y=Y('y',v); seg(ctx,A.l-9,y,A.l,y,'#333',2.5); txt(ctx,String(v),A.l-13,y,{size:31,color:'#4D4D4D',align:'right'});});
      propGroups.forEach((g,i)=>{const x=X('x',i+1); seg(ctx,x,A.b,x,A.b+9,'#333',2.5);
        txt(ctx,g,x,4389,{size:30,weight:'bold',color:'#4D4D4D'}); txt(ctx,'(n='+propN[i]+')',x,4438,{size:28,color:'#4D4D4D'});});
      const cx=(A.l+A.r)/2;
      txt(ctx,'Risk Score',cx,3341,{size:39,style:'italic'});
      txt(ctx,'TCGA',cx,3392,{size:35,style:'italic'});
      txt(ctx,'Percent weight',o.ylabX,3893,{size:33,rot:-Math.PI/2});
      txt(ctx,o.legTitle,o.legX,3782,{size:34,align:'left'});
      o.cats.forEach((c,i)=>{const yc=3839+53*i; rect(ctx,o.legX+4,yc-23,46,46,propFill[i],'#FFFFFF',3); txt(ctx,c,o.legX+70,yc,{size:29,align:'left'});});
    },
    (ch,ctx,X,Y)=>{rect(ctx,A.l,A.t,A.r-A.l,A.b-A.t,'#F2F2F2');});
}
propPanel({L:2000,W:900,area:{l:2134,t:3427,r:2635,b:4361},cats:stageCats,low:stageLowPct,high:stageHighPct,lowLbl:stageLowLbl,highLbl:stageHighLbl,
  barW:157,ylabX:2046,legTitle:'Stage',legX:2685});
propPanel({L:2920,W:860,area:{l:3053,t:3427,r:3622,b:4361},cats:gradeCats,low:gradeLowPct,high:gradeHighPct,lowLbl:gradeLowLbl,highLbl:gradeHighLbl,
  barW:178,ylabX:2965,legTitle:'Grade',legX:3675});

// ======================= panel letters =======================
[['A',114,34],['B',1980,38],['C',68,995],['D',2597,1044],['E',79,2320],['F',1194,2328],['G',2605,2263],['H',36,3458],['I',1969,3416],['J',2910,3433]]
  .forEach(l=>letter(l[0],l[1],l[2]));
</script>
</body>
</html>
